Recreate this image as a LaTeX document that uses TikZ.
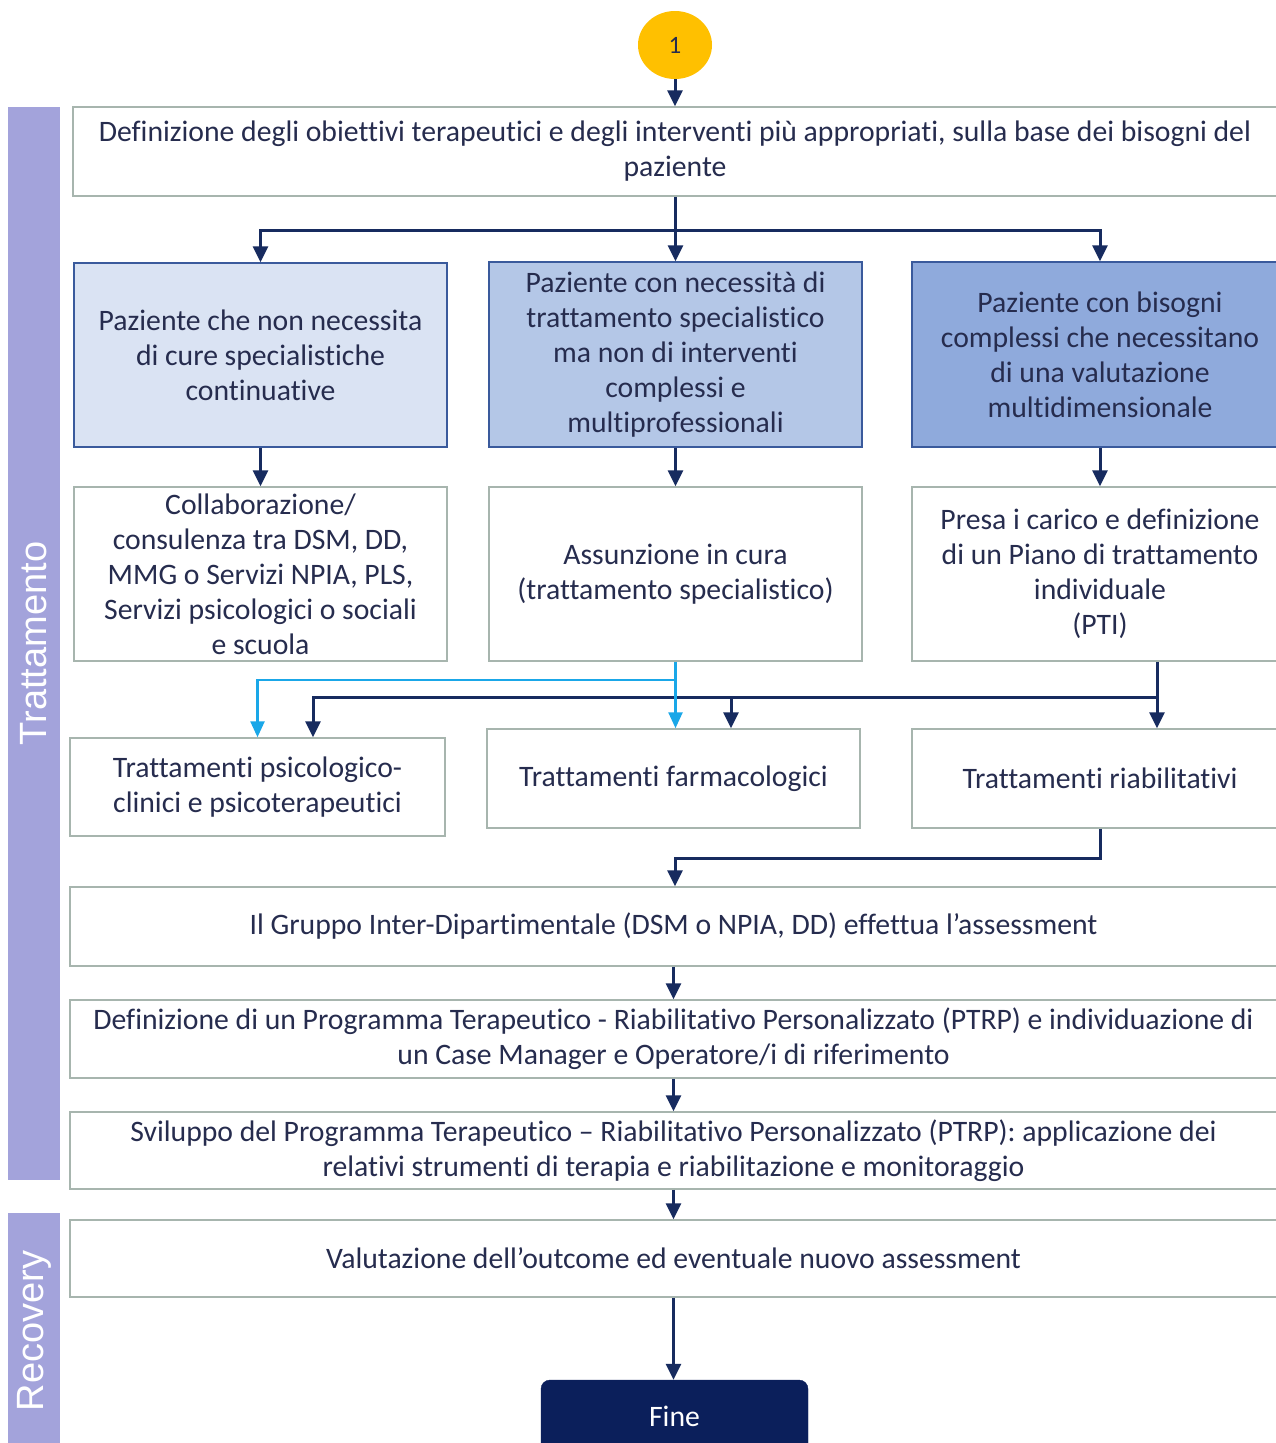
\documentclass[tikz,border=0pt]{standalone}
\usepackage{fontspec}
\setmainfont{Carlito}[Ligatures=CommonOff]
\newfontfamily\arialf{Liberation Sans}
\usetikzlibrary{arrows.meta,shapes.geometric}
\definecolor{navy}{HTML}{172B5F}
\definecolor{sky}{HTML}{1AA7E8}
\definecolor{txt}{HTML}{262C4E}
\definecolor{bord}{HTML}{A7B5AE}
\definecolor{cbord}{HTML}{3A5A9C}
\definecolor{fillA}{HTML}{DAE3F3}
\definecolor{fillB}{HTML}{B4C7E7}
\definecolor{fillC}{HTML}{8FAADC}
\definecolor{lav}{HTML}{A3A3DB}
\definecolor{gold}{HTML}{FFC000}
\definecolor{finec}{HTML}{0B1F5B}
\begin{document}
\begin{tikzpicture}[x=1pt,y=-1pt,
 wbox/.style={draw=bord, line width=1.5pt, fill=white, text=txt, align=center,
   font=\fontsize{29.7}{35}\selectfont, inner sep=0pt},
 cbox/.style={wbox, draw=cbord},
 ln/.style={draw=navy, line width=3pt},
 arr/.style={draw=navy, line width=3pt, -{Triangle[width=15pt,length=16pt]}},
 sarr/.style={draw=sky, line width=2.5pt, -{Triangle[width=14pt,length=16pt]}},
 sidebar/.style={fill=lav, text=white, font=\arialf\fontsize{38}{40}\selectfont,
   minimum height=52pt, inner sep=0pt, rotate=90}]
\useasboundingbox (0,0) rectangle (1275,1443);
\fill[white] (0,0) rectangle (1275,1443);

% side bars
\node[sidebar, minimum width=1073pt] (trat) at (34,643.5) {Trattamento};
\node[sidebar, minimum width=236pt] (reco) at (34,1331) {Recovery};

% start circle
\node[ellipse, fill=gold, minimum width=74pt, minimum height=68pt, inner sep=0pt,
  text=txt, font=\fontsize{25}{27}\selectfont] (c1) at (675,45) {1};

% boxes
\node[wbox, minimum width=1204pt, minimum height=89pt] (b1) at (675,151.5)
  {Definizione degli obiettivi terapeutici e degli interventi più appropriati, sulla base dei bisogni del\\ paziente};

\node[cbox, fill=fillA, minimum width=373pt, minimum height=184pt] (A) at (260.5,355)
  {Paziente che non necessita\\ di cure specialistiche\\ continuative};
\node[cbox, fill=fillB, minimum width=373pt, minimum height=185pt] (B) at (675.5,354.5)
  {Paziente con necessità di\\ trattamento specialistico\\ ma non di interventi\\ complessi e\\ multiprofessionali};
\node[cbox, fill=fillC, minimum width=376pt, minimum height=185pt] (C) at (1100,354.5)
  {Paziente con bisogni\\ complessi che necessitano\\ di una valutazione\\ multidimensionale};

\node[wbox, minimum width=373pt, minimum height=174pt] (D) at (260.5,574)
  {Collaborazione/\\ consulenza tra DSM, DD,\\ MMG o Servizi NPIA, PLS,\\ Servizi psicologici o sociali\\ e scuola};
\node[wbox, minimum width=373pt, minimum height=174pt] (E) at (675.5,574)
  {Assunzione in cura\\ (trattamento specialistico)};
\node[wbox, minimum width=376pt, minimum height=174pt] (F) at (1100,574)
  {Presa i carico e definizione\\ di un Piano di trattamento\\ individuale\\ (PTI)};

\node[wbox, minimum width=375pt, minimum height=98pt] (G) at (257.5,787)
  {Trattamenti psicologico-\\ clinici e psicoterapeutici};
\node[wbox, minimum width=373pt, minimum height=99pt] (H) at (673.5,778.5)
  {Trattamenti farmacologici};
\node[wbox, minimum width=376pt, minimum height=99pt] (I) at (1100,778.5)
  {Trattamenti riabilitativi};

\node[wbox, minimum width=1207pt, minimum height=79pt] (J) at (673.5,926.5)
  {Il Gruppo Inter-Dipartimentale (DSM o NPIA, DD) effettua l’assessment};
\node[wbox, minimum width=1207pt, minimum height=78pt] (K) at (673.5,1039)
  {Definizione di un Programma Terapeutico - Riabilitativo Personalizzato (PTRP) e individuazione di\\ un Case Manager e Operatore/i di riferimento};
\node[wbox, minimum width=1207pt, minimum height=77pt] (L) at (673.5,1150.5)
  {Sviluppo del Programma Terapeutico – Riabilitativo Personalizzato (PTRP): applicazione dei\\ relativi strumenti di terapia e riabilitazione e monitoraggio};
\node[wbox, minimum width=1207pt, minimum height=77pt] (M) at (673.5,1258.5)
  {Valutazione dell’outcome ed eventuale nuovo assessment};

\node[draw=finec, fill=finec, rounded corners=9pt, text=white, minimum width=267pt,
  minimum height=72pt, font=\fontsize{29.7}{35}\selectfont] (fine) at (674.5,1416) {Fine};

% connectors
\draw[arr] (c1.south) -- (c1.south |- b1.north);
\coordinate (j1) at (675,230);
\draw[arr] (B.north |- b1.south) -- (B.north);
\draw[arr] (j1) -| (A.north);
\draw[arr] (j1) -| (C.north);

\draw[arr] (A.south) -- (D.north);
\draw[arr] (B.south) -- (E.north);
\draw[arr] (C.south) -- (F.north);

% dark branch from F
\coordinate (fo) at ([xshift=57pt]F.south);
\coordinate (h) at (1157,697);
\coordinate (hm) at (731,697);
\draw[arr] (fo) -- (fo |- I.north);
\draw[arr] (h) -| ([xshift=55.5pt]G.north);
\draw[arr] (hm) -- (hm |- H.north);

% light blue branch from E
\coordinate (s1) at (675.5,680);
\draw[sarr] (E.south) -- (E.south |- H.north);
\draw[sarr] (s1) -| (G.north);

% to assessment
\coordinate (k) at (675,858);
\draw[arr] (I.south) |- (k) -- (k |- J.north);

\draw[arr] (J.south) -- (K.north);
\draw[arr] (K.south) -- (L.north);
\draw[arr] (L.south) -- (M.north);
\draw[arr] (M.south) -- (M.south |- fine.north);
\end{tikzpicture}
\end{document}
